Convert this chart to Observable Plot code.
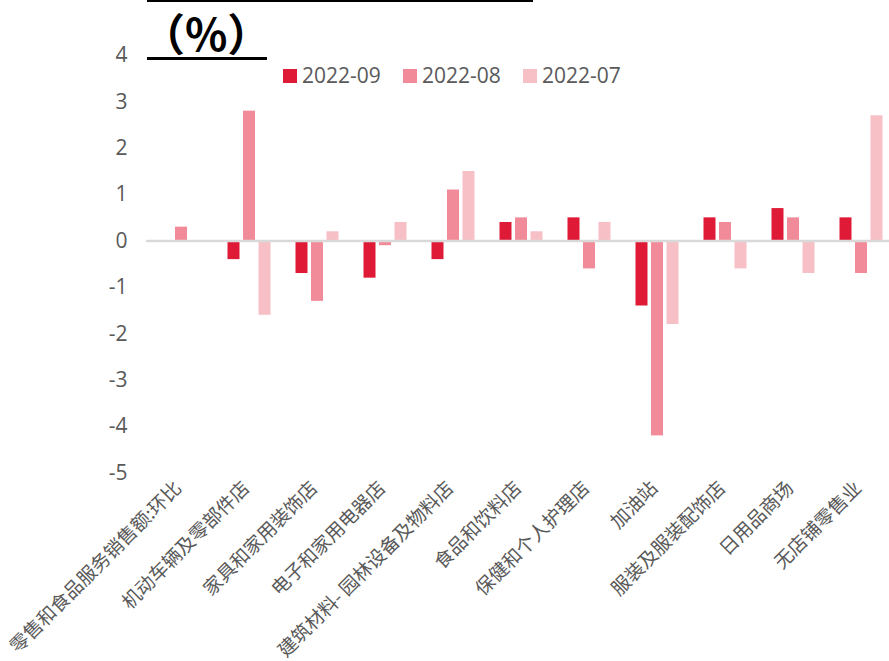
<!DOCTYPE html>
<html>
<head>
<meta charset="utf-8">
<script src="https://cdn.jsdelivr.net/npm/d3@7"></script>
<script src="https://cdn.jsdelivr.net/npm/@observablehq/plot@0.6"></script>
<style>
  html, body { margin: 0; padding: 0; background: #fff; }
  #wrap { position: relative; width: 889px; height: 661px; overflow: hidden; }
  #wrap svg { position: absolute; left: 0; top: 0; }
  .topline { position: absolute; left: 147px; top: 0; width: 386px; height: 2px; background: #000; }
  .unit { position: absolute; left: 141px; top: 0; font: bold 44px "Noto Sans CJK SC", sans-serif; color: #000; line-height: normal; white-space: nowrap; }
  .uline { position: absolute; left: 147px; top: 57px; width: 120px; height: 3px; background: #000; }
  .legend { position: absolute; left: 283px; top: 65px; display: flex; font: 21px "Open Sans", sans-serif; color: #595959; line-height: 21px; }
  .legend .item { display: flex; align-items: center; width: 120px; }
  .legend .sw { width: 14px; height: 14px; margin-right: 5px; }
</style>
</head>
<body>
<div id="wrap">
  <div class="topline"></div>
  <div class="unit">（%）</div>
  <div class="uline"></div>
  <div class="legend" id="legend"></div>
</div>
<script>
// Month-on-month change of US retail sales by store type (%)
const categories = [
  "零售和食品服务销售额:环比",
  "机动车辆及零部件店",
  "家具和家用装饰店",
  "电子和家用电器店",
  "建筑材料- 园林设备及物料店",
  "食品和饮料店",
  "保健和个人护理店",
  "加油站",
  "服装及服装配饰店",
  "日用品商场",
  "无店铺零售业"
];
const seriesNames = ["2022-09", "2022-08", "2022-07"];
const sep2022 = [0.0, -0.4, -0.7, -0.8, -0.4, 0.4, 0.5, -1.4, 0.5, 0.7, 0.5];
const aug2022 = [0.3, 2.8, -1.3, -0.1, 1.1, 0.5, -0.6, -4.2, 0.4, 0.5, -0.7];
const jul2022 = [0.0, -1.6, 0.2, 0.4, 1.5, 0.2, 0.4, -1.8, -0.6, -0.7, 2.7];
const yTicks = [-5, -4, -3, -2, -1, 0, 1, 2, 3, 4];

const colors = ["#DE1A36", "#F28B99", "#F7BFC6"];
const seriesValues = [sep2022, aug2022, jul2022];
const offsets = [-15.5, 0, 15.5];

const rows = seriesValues.map((vals) => categories.map((c, i) => ({cat: c, v: vals[i]})));

const bars = rows.map((data, k) =>
  Plot.barY(data, {
    x: "cat", y: "v", fill: colors[k],
    dx: offsets[k], insetLeft: 28, insetRight: 28
  })
);

const chart = Plot.plot({
  width: 889,
  height: 661,
  marginLeft: 146,
  marginRight: 0,
  marginTop: 55,
  marginBottom: 188.5,
  style: {background: "transparent", fontFamily: "'Noto Sans CJK SC', 'Open Sans', sans-serif"},
  x: {domain: categories, range: [146, 895], padding: 0, label: null},
  y: {domain: [-5, 4], label: null},
  marks: [
    ...bars,
    Plot.ruleY([0], {stroke: "#D9D9D9", strokeWidth: 2.5}),
    Plot.axisY({
      ticks: yTicks, tickSize: 0, tickPadding: 19,
      tickFormat: (d) => String(d),
      fontSize: 21, color: "#595959", fontFamily: "'Open Sans', sans-serif", label: null
    }),
    Plot.axisX({
      tickSize: 0, tickRotate: -45, tickPadding: 12, dx: -3,
      fontSize: 19, color: "#595959", label: null
    })
  ]
});
document.getElementById("wrap").prepend(chart);

const legend = document.getElementById("legend");
seriesNames.forEach((name, k) => {
  const item = document.createElement("div");
  item.className = "item";
  const sw = document.createElement("span");
  sw.className = "sw";
  sw.style.background = colors[k];
  const label = document.createElement("span");
  label.textContent = name;
  item.append(sw, label);
  legend.append(item);
});
</script>
</body>
</html>
